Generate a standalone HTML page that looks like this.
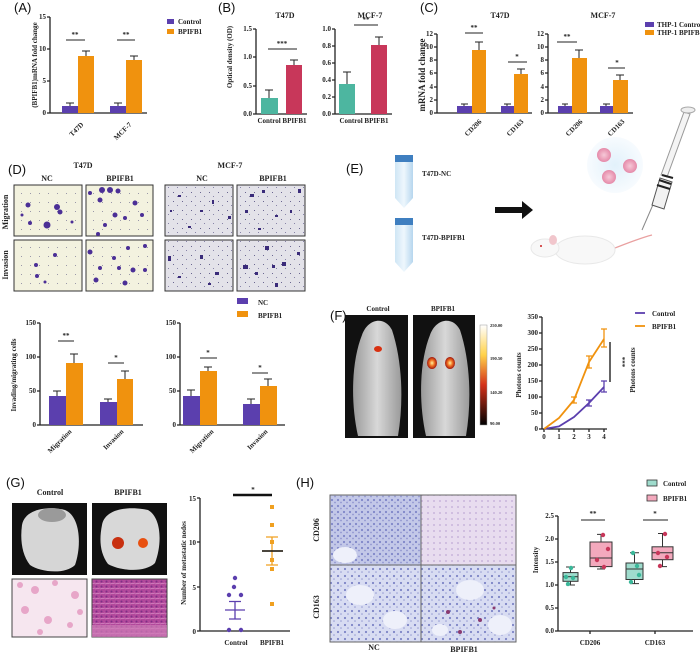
<!DOCTYPE html>
<html><head><meta charset="utf-8"><style>
html,body{margin:0;padding:0;background:#fff}
svg{display:block}
text{font-family:"Liberation Serif",serif;font-weight:bold;fill:#222}
.pl{font-family:"Liberation Sans",sans-serif;font-weight:normal;font-size:13px;fill:#111}
.t{font-size:7px}
.ax{stroke:#222;stroke-width:1.3;fill:none}
.e{stroke:#222;stroke-width:1;fill:none}
</style></head><body>
<svg width="700" height="653" viewBox="0 0 700 653" xmlns="http://www.w3.org/2000/svg">
<defs>
<pattern id="ihc1" width="6" height="6" patternUnits="userSpaceOnUse"><rect width="6" height="6" fill="#c3c8e8"/><circle cx="2" cy="2" r="1.1" fill="#7f86c8"/><circle cx="5" cy="4.5" r="0.9" fill="#9096d0"/></pattern>
<pattern id="ihc2" width="6" height="6" patternUnits="userSpaceOnUse"><rect width="6" height="6" fill="#e8dcef"/><circle cx="2" cy="3" r="1" fill="#c8b5dc"/></pattern>
<pattern id="ihc3" width="7" height="7" patternUnits="userSpaceOnUse"><rect width="7" height="7" fill="#d8dcf2"/><circle cx="2" cy="2" r="1.1" fill="#7d84c6"/><circle cx="5" cy="5" r="0.8" fill="#959bd2"/></pattern>
<pattern id="he" width="5" height="5" patternUnits="userSpaceOnUse"><rect width="5" height="5" fill="#b2489c"/><circle cx="1.5" cy="1.5" r="1" fill="#7e2f86"/><path d="M0 4L5 3" stroke="#e6a6d4" stroke-width="0.6"/></pattern>
<pattern id="mcf" width="9" height="9" patternUnits="userSpaceOnUse"><rect width="9" height="9" fill="#e3e2e9"/><rect x="2" y="3" width="1" height="1" fill="#6a6690"/><rect x="6" y="7" width="1" height="1" fill="#8884a8"/></pattern>
<pattern id="t47" width="9" height="9" patternUnits="userSpaceOnUse"><rect width="9" height="9" fill="#f3f2df"/><rect x="3" y="4" width="1" height="1" fill="#9a98a8"/></pattern>
</defs>
<!-- Panel A -->
<text class="pl" x="14" y="12">(A)</text>
<path class="ax" d="M50 17V113H147M47 17H50M47 49H50M47 81H50M47 113H50"/>
<g class="t" text-anchor="end"><text x="46" y="19">15</text><text x="46" y="51">10</text><text x="46" y="83">5</text><text x="46" y="115">0</text></g>
<text class="t" transform="translate(37,65) rotate(-90)" text-anchor="middle" font-size="8">(BPIFB1)mRNA fold change</text>
<rect x="62" y="106" width="16" height="7" fill="#5b3fae"/><rect x="78" y="56" width="16" height="57" fill="#f0920e"/>
<rect x="110" y="106" width="16" height="7" fill="#5b3fae"/><rect x="126" y="60" width="16" height="53" fill="#f0920e"/>
<path class="e" d="M70 106V103M66 103H74M86 56V51M82 51H90M118 106V103M114 103H122M134 60V56M130 56H138"/>
<path class="e" d="M66 40H85M117 40H135"/><text class="t" x="75" y="37" text-anchor="middle" font-size="9">**</text><text class="t" x="126" y="37" text-anchor="middle" font-size="9">**</text>
<text class="t" transform="translate(84,125) rotate(-45)" text-anchor="end">T47D</text>
<text class="t" transform="translate(132,125) rotate(-45)" text-anchor="end">MCF-7</text>
<rect x="167" y="19" width="7" height="5" fill="#5b3fae"/><text class="t" x="178" y="24" font-size="6">Control</text>
<rect x="167" y="29" width="7" height="5" fill="#f0920e"/><text class="t" x="178" y="34" font-size="6">BPIFB1</text>
<!-- Panel B -->
<text class="pl" x="218" y="12">(B)</text>
<text x="285" y="18" font-size="8" text-anchor="middle">T47D</text>
<path class="ax" d="M256 29V114H307M253 29H256M253 57H256M253 86H256M253 114H256"/>
<g class="t" text-anchor="end" font-size="6"><text x="252" y="31">1.5</text><text x="252" y="59">1.0</text><text x="252" y="88">0.5</text><text x="252" y="116">0.0</text></g>
<text class="t" transform="translate(232,57) rotate(-90)" text-anchor="middle">Optical density (OD)</text>
<rect x="261" y="98" width="17" height="16" fill="#4db6a0"/><rect x="286" y="65" width="16" height="49" fill="#c8375a"/>
<path class="e" d="M269 98V90M265 90H273M294 65V60M290 60H298M268 49H297"/>
<text class="t" x="282" y="46" text-anchor="middle" font-size="9">***</text>
<text class="t" x="282" y="123" text-anchor="middle">Control BPIFB1</text>
<text x="370" y="18" font-size="8" text-anchor="middle">MCF-7</text>
<path class="ax" d="M335 29V114H392M332 29H335M332 46H335M332 63H335M332 80H335M332 97H335M332 114H335"/>
<g class="t" text-anchor="end" font-size="6"><text x="331" y="31">1.0</text><text x="331" y="48">0.8</text><text x="331" y="65">0.6</text><text x="331" y="82">0.4</text><text x="331" y="99">0.2</text><text x="331" y="116">0.0</text></g>
<rect x="339" y="84" width="16" height="30" fill="#4db6a0"/><rect x="371" y="45" width="16" height="69" fill="#c8375a"/>
<path class="e" d="M347 84V72M343 72H351M379 45V37M375 37H383M354 25H378"/>
<text class="t" x="366" y="22" text-anchor="middle" font-size="9">**</text>
<text class="t" x="364" y="123" text-anchor="middle">Control BPIFB1</text>
<!-- Panel C -->
<text class="pl" x="420" y="12">(C)</text>
<text x="500" y="18" font-size="8" text-anchor="middle">T47D</text>
<text x="603" y="18" font-size="8" text-anchor="middle">MCF-7</text>
<text transform="translate(425,75) rotate(-90)" text-anchor="middle" font-size="9">mRNA fold change</text>
<path class="ax" d="M437 34V113H532M434 34H437M434 47H437M434 60H437M434 73H437M434 87H437M434 100H437M434 113H437"/>
<g class="t" text-anchor="end" font-size="6"><text x="433" y="36">12</text><text x="433" y="49">10</text><text x="433" y="62">8</text><text x="433" y="75">6</text><text x="433" y="89">4</text><text x="433" y="102">2</text><text x="433" y="115">0</text></g>
<rect x="457" y="106" width="15" height="7" fill="#5b3fae"/><rect x="472" y="50" width="14" height="63" fill="#f0920e"/>
<rect x="501" y="106" width="13" height="7" fill="#5b3fae"/><rect x="514" y="74" width="14" height="39" fill="#f0920e"/>
<path class="e" d="M464 106V104M461 104H468M479 50V42M475 42H483M507 106V104M504 104H511M521 74V69M517 69H525M465 33H483M508 62H527"/>
<text class="t" x="474" y="30" text-anchor="middle" font-size="9">**</text><text class="t" x="517" y="59" text-anchor="middle" font-size="9">*</text>
<text class="t" transform="translate(482,122) rotate(-45)" text-anchor="end">CD206</text>
<text class="t" transform="translate(524,122) rotate(-45)" text-anchor="end">CD163</text>
<path class="ax" d="M548 34V113H633M545 34H548M545 47H548M545 60H548M545 73H548M545 87H548M545 100H548M545 113H548"/>
<g class="t" text-anchor="end" font-size="6"><text x="544" y="36">12</text><text x="544" y="49">10</text><text x="544" y="62">8</text><text x="544" y="75">6</text><text x="544" y="89">4</text><text x="544" y="102">2</text><text x="544" y="115">0</text></g>
<rect x="558" y="106" width="14" height="7" fill="#5b3fae"/><rect x="572" y="58" width="15" height="55" fill="#f0920e"/>
<rect x="600" y="106" width="13" height="7" fill="#5b3fae"/><rect x="613" y="80" width="15" height="33" fill="#f0920e"/>
<path class="e" d="M565 106V104M562 104H568M579 58V50M575 50H583M606 106V104M603 104H610M620 80V75M616 75H624M557 42H577M608 68H625"/>
<text class="t" x="567" y="39" text-anchor="middle" font-size="9">**</text><text class="t" x="617" y="65" text-anchor="middle" font-size="9">*</text>
<text class="t" transform="translate(583,122) rotate(-45)" text-anchor="end">CD206</text>
<text class="t" transform="translate(625,122) rotate(-45)" text-anchor="end">CD163</text>
<rect x="645" y="22" width="9" height="5" fill="#5b3fae"/><text class="t" x="657" y="27" font-size="5.3">THP-1 Control</text>
<rect x="645" y="30" width="9" height="5" fill="#f0920e"/><text class="t" x="657" y="35" font-size="5.3">THP-1 BPIFB1</text>
<!-- Panel D images -->
<text class="pl" x="8" y="174">(D)</text>
<text x="83" y="168" font-size="8" text-anchor="middle">T47D</text><text x="230" y="168" font-size="8" text-anchor="middle">MCF-7</text>
<g font-size="8" text-anchor="middle"><text x="47" y="181">NC</text><text x="120" y="181">BPIFB1</text><text x="202" y="181">NC</text><text x="273" y="181">BPIFB1</text></g>
<text transform="translate(8,212) rotate(-90)" text-anchor="middle" font-size="8">Migration</text>
<text transform="translate(8,265) rotate(-90)" text-anchor="middle" font-size="8">Invasion</text>
<g stroke="#333" stroke-width="1">
<rect x="14" y="185" width="68" height="51" fill="url(#t47)"/><rect x="86" y="185" width="67" height="51" fill="url(#t47)"/>
<rect x="14" y="240" width="68" height="51" fill="url(#t47)"/><rect x="86" y="240" width="67" height="51" fill="url(#t47)"/>
<rect x="165" y="185" width="68" height="51" fill="url(#mcf)"/><rect x="237" y="185" width="68" height="51" fill="url(#mcf)"/>
<rect x="165" y="240" width="68" height="51" fill="url(#mcf)"/><rect x="237" y="240" width="68" height="51" fill="url(#mcf)"/></g>
<g fill="#4b2f96">
<circle cx="28" cy="205" r="2.5"/><circle cx="57" cy="207" r="3"/><circle cx="60" cy="212" r="2.5"/><circle cx="47" cy="225" r="3.5"/><circle cx="30" cy="223" r="2"/><circle cx="22" cy="215" r="1.5"/><circle cx="72" cy="222" r="1.5"/>
<circle cx="102" cy="190" r="3"/><circle cx="110" cy="190" r="3"/><circle cx="118" cy="191" r="2.5"/><circle cx="100" cy="200" r="2.5"/><circle cx="135" cy="203" r="2.5"/><circle cx="115" cy="215" r="2.5"/><circle cx="125" cy="218" r="2"/><circle cx="142" cy="215" r="2"/><circle cx="105" cy="225" r="2"/><circle cx="90" cy="193" r="2"/><circle cx="98" cy="234" r="2"/>
<circle cx="55" cy="255" r="2"/><circle cx="36" cy="265" r="2"/><circle cx="37" cy="276" r="2"/><circle cx="45" cy="282" r="1.5"/>
<circle cx="90" cy="252" r="2.5"/><circle cx="114" cy="258" r="2"/><circle cx="128" cy="248" r="2"/><circle cx="145" cy="246" r="2"/><circle cx="100" cy="268" r="2"/><circle cx="96" cy="280" r="2.5"/><circle cx="125" cy="283" r="2.5"/><circle cx="133" cy="270" r="2.5"/><circle cx="145" cy="270" r="2"/><circle cx="119" cy="268" r="2"/>
</g>
<g fill="#3a2b7a">
<rect x="178" y="195" width="3" height="2"/><rect x="200" y="210" width="3" height="2"/><rect x="212" y="200" width="2" height="4"/><rect x="228" y="216" width="3" height="3"/><rect x="188" y="226" width="3" height="2"/><rect x="170" y="210" width="2" height="2"/>
<rect x="250" y="194" width="4" height="3"/><rect x="262" y="190" width="3" height="3"/><rect x="298" y="189" width="3" height="4"/><rect x="245" y="210" width="3" height="3"/><rect x="275" y="215" width="3" height="2"/><rect x="290" y="210" width="2" height="3"/><rect x="258" y="228" width="3" height="2"/>
<rect x="168" y="256" width="3" height="5"/><rect x="200" y="255" width="3" height="4"/><rect x="178" y="276" width="3" height="2"/><rect x="215" y="272" width="4" height="3"/><rect x="208" y="283" width="3" height="2"/>
<rect x="243" y="265" width="5" height="4"/><rect x="265" y="246" width="4" height="4"/><rect x="272" y="265" width="3" height="3"/><rect x="282" y="262" width="4" height="4"/><rect x="297" y="252" width="3" height="3"/><rect x="275" y="283" width="3" height="4"/><rect x="255" y="272" width="3" height="3"/>
</g>
<rect x="237" y="298" width="11" height="6" fill="#5b3fae"/><text class="t" x="258" y="305" font-size="8">NC</text>
<rect x="237" y="311" width="11" height="6" fill="#f0920e"/><text class="t" x="258" y="318" font-size="8">BPIFB1</text>
<!-- D bar charts -->
<text class="t" transform="translate(16,375) rotate(-90)" text-anchor="middle">Invading/migrating cells</text>
<path class="ax" d="M40 323V425H143M37 323H40M37 357H40M37 391H40M37 425H40"/>
<g class="t" text-anchor="end"><text x="36" y="325">150</text><text x="36" y="359">100</text><text x="36" y="393">50</text><text x="36" y="427">0</text></g>
<rect x="49" y="396" width="17" height="29" fill="#5b3fae"/><rect x="66" y="363" width="17" height="62" fill="#f0920e"/>
<rect x="100" y="402" width="17" height="23" fill="#5b3fae"/><rect x="117" y="379" width="16" height="46" fill="#f0920e"/>
<path class="e" d="M57 396V391M53 391H61M74 363V354M70 354H78M108 402V399M104 399H112M125 379V371M121 371H129M58 341H74M108 363H124"/>
<text class="t" x="66" y="338" text-anchor="middle" font-size="9">**</text><text class="t" x="116" y="360" text-anchor="middle" font-size="9">*</text>
<text class="t" transform="translate(72,432) rotate(-45)" text-anchor="end">Migration</text>
<text class="t" transform="translate(124,432) rotate(-45)" text-anchor="end">Invasion</text>
<path class="ax" d="M180 323V425H285M177 323H180M177 357H180M177 391H180M177 425H180"/>
<g class="t" text-anchor="end"><text x="176" y="325">150</text><text x="176" y="359">100</text><text x="176" y="393">50</text><text x="176" y="427">0</text></g>
<rect x="183" y="396" width="17" height="29" fill="#5b3fae"/><rect x="200" y="371" width="17" height="54" fill="#f0920e"/>
<rect x="243" y="404" width="17" height="21" fill="#5b3fae"/><rect x="260" y="386" width="17" height="39" fill="#f0920e"/>
<path class="e" d="M191 396V390M187 390H195M208 371V367M204 367H212M251 404V399M247 399H255M268 386V379M264 379H272M200 358H217M252 373H268"/>
<text class="t" x="208" y="355" text-anchor="middle" font-size="9">*</text><text class="t" x="260" y="370" text-anchor="middle" font-size="9">*</text>
<text class="t" transform="translate(214,432) rotate(-45)" text-anchor="end">Migration</text>
<text class="t" transform="translate(268,432) rotate(-45)" text-anchor="end">Invasion</text>
<!-- Panel E -->
<text class="pl" x="346" y="173">(E)</text>
<defs><linearGradient id="tb" x1="0" x2="1"><stop offset="0" stop-color="#cfe6f5"/><stop offset="0.5" stop-color="#eef7fd"/><stop offset="1" stop-color="#b6d6ee"/></linearGradient>
<radialGradient id="cg"><stop offset="0" stop-color="#e2f1fb"/><stop offset="1" stop-color="#f7fbfe"/></radialGradient>
<radialGradient id="cell"><stop offset="0" stop-color="#f6c9d8"/><stop offset="1" stop-color="#e58aa9"/></radialGradient>
<linearGradient id="cb" x1="0" y1="0" x2="0" y2="1"><stop offset="0" stop-color="#fff"/><stop offset="0.3" stop-color="#ffd24a"/><stop offset="0.6" stop-color="#d4321a"/><stop offset="1" stop-color="#000"/></linearGradient>
<radialGradient id="hot"><stop offset="0" stop-color="#fff4a0"/><stop offset="0.5" stop-color="#f07020"/><stop offset="1" stop-color="#a01810"/></radialGradient>
<linearGradient id="ms" x1="0" x2="1"><stop offset="0" stop-color="#9a9a9a"/><stop offset="0.5" stop-color="#d8d8d8"/><stop offset="1" stop-color="#9a9a9a"/></linearGradient></defs>
<rect x="395" y="155" width="18" height="7" fill="#3f7fc0"/><path d="M395 162H413V198L404 208L395 198Z" fill="url(#tb)"/>
<rect x="395" y="218" width="18" height="7" fill="#3f7fc0"/><path d="M395 225H413V262L404 272L395 262Z" fill="url(#tb)"/>
<text x="422" y="176" font-size="7" font-weight="normal">T47D-NC</text><text x="422" y="240" font-size="7" font-weight="normal">T47D-BPIFB1</text>
<path d="M495 207H522V201L533 210L522 219V213H495Z" fill="#111"/>
<circle cx="615" cy="165" r="28" fill="url(#cg)"/>
<circle cx="604" cy="155" r="7" fill="url(#cell)"/><circle cx="630" cy="166" r="7" fill="url(#cell)"/><circle cx="609" cy="177" r="7" fill="url(#cell)"/>
<path d="M642 230L655 200" stroke="#888" stroke-width="1"/>
<path d="M652 205L660 178L672 182L664 209Z" fill="#f2f2f2" stroke="#555" stroke-width="1"/>
<path d="M661 175L684 112L690 114L667 177Z" fill="#f4f4f4" stroke="#999" stroke-width="1"/>
<path d="M657 185L670 189M659 180L671 184M662 175L673 178" stroke="#222" stroke-width="2"/>
<ellipse cx="688" cy="110" rx="7" ry="3" fill="#eee" stroke="#aaa"/>
<path d="M610 250Q640 238 652 235" stroke="#e9a0a0" stroke-width="1.2" fill="none"/>
<ellipse cx="585" cy="250" rx="30" ry="14" fill="#f8f8f8" stroke="#e8e8e8"/>
<ellipse cx="545" cy="248" rx="14" ry="9" fill="#f8f8f8" stroke="#e8e8e8"/>
<ellipse cx="553" cy="240" rx="4" ry="5" fill="#f1c6cc"/><circle cx="541" cy="246" r="1" fill="#c22"/>
<!-- Panel F -->
<text class="pl" x="330" y="320">(F)</text>
<text x="378" y="311" font-size="7" text-anchor="middle">Control</text><text x="443" y="311" font-size="7" text-anchor="middle">BPIFB1</text>
<rect x="345" y="315" width="63" height="123" fill="#111"/><rect x="413" y="315" width="62" height="123" fill="#111"/>
<path d="M358 436C350 400 352 360 362 335C368 318 385 316 392 330C402 360 404 400 398 436Z" fill="url(#ms)"/>
<path d="M426 436C418 400 420 360 430 335C436 318 453 316 460 330C470 360 472 400 466 436Z" fill="url(#ms)"/>
<ellipse cx="378" cy="349" rx="4" ry="3" fill="#d83010"/>
<ellipse cx="432" cy="363" rx="5" ry="6" fill="url(#hot)"/><ellipse cx="450" cy="363" rx="5" ry="6" fill="url(#hot)"/>
<rect x="480" y="325" width="7" height="100" fill="url(#cb)" stroke="#999" stroke-width="0.5"/>
<g font-size="4.5" font-weight="normal"><text x="490" y="327">250.00</text><text x="490" y="360">190.50</text><text x="490" y="394">140.20</text><text x="490" y="425">90.00</text></g>
<text class="t" transform="translate(521,375) rotate(-90)" text-anchor="middle">Photons counts</text>
<path class="ax" d="M542 317V429H607M539 317H542M539 333H542M539 349H542M539 365H542M539 381H542M539 397H542M539 413H542M539 429H542M544 429V432M559 429V432M574 429V432M589 429V432M604 429V432"/>
<g class="t" text-anchor="end" font-size="6"><text x="538" y="319">350</text><text x="538" y="335">300</text><text x="538" y="351">250</text><text x="538" y="367">200</text><text x="538" y="383">150</text><text x="538" y="399">100</text><text x="538" y="415">50</text><text x="538" y="431">0</text></g>
<g class="t" text-anchor="middle"><text x="544" y="439">0</text><text x="559" y="439">1</text><text x="574" y="439">2</text><text x="589" y="439">3</text><text x="604" y="439">4</text></g>
<polyline points="544,429 559,426.4 574,417 589,403 604,387" fill="none" stroke="#5b3fae" stroke-width="1.8"/>
<polyline points="544,429 559,418 574,400 589,362 604,339" fill="none" stroke="#f0920e" stroke-width="1.8"/>
<path d="M589 406V400M586 406H592M586 400H592M604 392V381M601 392H607M601 381H607" stroke="#5b3fae" stroke-width="1.3"/>
<path d="M574 403V397M571 403H577M571 397H577M589 368V356M586 368H592M586 356H592M604 347V329M601 347H607M601 329H607" stroke="#f0920e" stroke-width="1.3"/>
<path d="M610 342V382" stroke="#111" stroke-width="1.3"/>
<text class="t" transform="translate(620,362) rotate(90)" text-anchor="middle" font-size="9">***</text>
<text class="t" transform="translate(635,370) rotate(-90)" text-anchor="middle">Photons counts</text>
<path d="M635 313H645" stroke="#5b3fae" stroke-width="1.8"/><text class="t" x="652" y="316" font-size="8">Control</text>
<path d="M635 326H645" stroke="#f0920e" stroke-width="1.8"/><text class="t" x="652" y="329" font-size="8">BPIFB1</text>
<!-- Panel G -->
<text class="pl" x="6" y="487">(G)</text>
<text x="50" y="495" font-size="8" text-anchor="middle">Control</text><text x="128" y="495" font-size="8" text-anchor="middle">BPIFB1</text>
<rect x="12" y="503" width="75" height="72" fill="#111"/><rect x="92" y="503" width="75" height="72" fill="#111"/>
<path d="M22 525C25 508 50 506 65 510C80 516 82 545 75 565C65 575 40 572 30 565C22 555 20 540 22 525Z" fill="#d6d6d6"/>
<ellipse cx="52" cy="515" rx="14" ry="7" fill="#9a9a9a"/>
<path d="M102 525C105 508 130 506 148 510C162 518 162 545 155 563C145 573 120 571 108 564C100 553 99 540 102 525Z" fill="#d8d8d8"/>
<ellipse cx="118" cy="543" rx="6" ry="6" fill="#c83010"/><ellipse cx="143" cy="543" rx="5" ry="5" fill="#e85010"/>
<rect x="12" y="579" width="75" height="58" fill="#f6e6ef" stroke="#444"/><rect x="92" y="579" width="75" height="58" fill="url(#he)" stroke="#444"/>
<g fill="#e7a6c8"><circle cx="20" cy="585" r="3"/><circle cx="35" cy="590" r="4"/><circle cx="55" cy="583" r="3"/><circle cx="75" cy="595" r="4"/><circle cx="25" cy="610" r="4"/><circle cx="48" cy="620" r="4"/><circle cx="70" cy="625" r="3"/><circle cx="40" cy="632" r="3"/><circle cx="80" cy="612" r="3"/></g>
<rect x="92" y="625" width="75" height="12" fill="#cf7fb8" opacity="0.7"/>
<text class="t" transform="translate(186,563) rotate(-90)" text-anchor="middle" font-size="8">Number of metastatic nodes</text>
<path class="ax" d="M200 498V631H290M197 498H200M197 542H200M197 587H200M197 631H200"/>
<g class="t" text-anchor="end" font-size="8"><text x="196" y="501">15</text><text x="196" y="545">10</text><text x="196" y="590">5</text><text x="196" y="634">0</text></g>
<path d="M233 495H272" stroke="#111" stroke-width="2.5"/><text class="t" x="253" y="492" text-anchor="middle" font-size="10">*</text>
<g fill="#5b3fae"><circle cx="235" cy="578" r="2.2"/><circle cx="234" cy="587" r="2.2"/><circle cx="229" cy="595" r="2.2"/><circle cx="241" cy="595" r="2.2"/><circle cx="229" cy="630" r="2.2"/><circle cx="241" cy="630" r="2.2"/></g>
<path d="M225 610H245M229 601.5H241M229 619H241M235 601.5V619" stroke="#5b3fae" stroke-width="1.3"/>
<g fill="#f0a020"><rect x="270" y="505" width="4" height="4"/><rect x="270" y="523" width="4" height="4"/><rect x="270" y="540" width="4" height="4"/><rect x="270" y="558" width="4" height="4"/><rect x="270" y="567" width="4" height="4"/><rect x="270" y="602" width="4" height="4"/></g>
<path d="M262 551H283M266 537H278M266 565H278M272 537V565" stroke="#f0a020" stroke-width="1.3"/>
<path d="M262 551H283" stroke="#111" stroke-width="1.5"/>
<text class="t" x="236" y="645" text-anchor="middle" font-size="8">Control</text><text class="t" x="272" y="645" text-anchor="middle" font-size="8">BPIFB1</text>
<!-- Panel H -->
<text class="pl" x="296" y="487">(H)</text>
<rect x="330" y="495" width="91" height="70" fill="url(#ihc1)"/><rect x="421" y="495" width="95" height="70" fill="url(#ihc2)"/>
<rect x="330" y="565" width="91" height="77" fill="url(#ihc3)"/><rect x="421" y="565" width="95" height="77" fill="url(#ihc3)"/>
<g fill="#eef0fa"><ellipse cx="345" cy="555" rx="12" ry="8"/><ellipse cx="360" cy="595" rx="14" ry="10"/><ellipse cx="395" cy="620" rx="12" ry="9"/><ellipse cx="470" cy="590" rx="14" ry="10"/><ellipse cx="500" cy="625" rx="12" ry="10"/><ellipse cx="440" cy="630" rx="8" ry="6"/></g>
<g fill="#8a3a70"><circle cx="448" cy="612" r="2"/><circle cx="480" cy="620" r="2"/><circle cx="460" cy="632" r="2"/><circle cx="494" cy="608" r="1.5"/></g>
<path d="M330 495H516V642H330ZM421 495V642M330 565H516" stroke="#666" stroke-width="1" fill="none"/>
<text transform="translate(319,530) rotate(-90)" text-anchor="middle" font-size="8">CD206</text>
<text transform="translate(319,607) rotate(-90)" text-anchor="middle" font-size="8">CD163</text>
<text x="374" y="650" font-size="8" text-anchor="middle">NC</text><text x="464" y="652" font-size="8" text-anchor="middle">BPIFB1</text>
<text class="t" transform="translate(538,560) rotate(-90)" text-anchor="middle" font-size="8">Intensity</text>
<path class="ax" d="M558 516V631H693M555 516H558M555 539H558M555 562H558M555 585H558M555 608H558M555 631H558M590 631V634M655 631V634"/>
<g class="t" text-anchor="end" font-size="6"><text x="554" y="518">2.5</text><text x="554" y="541">2.0</text><text x="554" y="564">1.5</text><text x="554" y="587">1.0</text><text x="554" y="610">0.5</text><text x="554" y="633">0.0</text></g>
<g stroke="#333" stroke-width="1">
<path d="M570.5 585V567M566 585H575M566 567H575" fill="none"/><rect x="563" y="572.6" width="15" height="8.7" fill="#9fdccd"/><path d="M563 576.7H578"/>
<path d="M601 569V534.4M597 569H605M597 534.4H605" fill="none"/><rect x="590" y="542" width="22" height="24.6" fill="#f3a9bd"/><path d="M590 558H612"/>
<path d="M634.5 583.6V552.8M630 583.6H639M630 552.8H639" fill="none"/><rect x="626" y="563" width="17" height="16.5" fill="#9fdccd"/><path d="M626 569H643"/>
<path d="M662.5 566.6V533.5M658 566.6H667M658 533.5H667" fill="none"/><rect x="652" y="546.8" width="21" height="12.9" fill="#f3a9bd"/><path d="M652 552.8H673"/>
</g>
<g fill="#3bb89a"><circle cx="568" cy="584" r="2.2"/><circle cx="573" cy="578" r="2.2"/><circle cx="566" cy="577" r="2.2"/><circle cx="571" cy="568" r="2.2"/><circle cx="631" cy="582" r="2.2"/><circle cx="637" cy="566" r="2.2"/><circle cx="633" cy="553" r="2.2"/><circle cx="639" cy="575" r="2.2"/></g>
<g fill="#c8375a"><circle cx="603" cy="535" r="2.2"/><circle cx="597" cy="560" r="2.2"/><circle cx="604" cy="567" r="2.2"/><circle cx="608" cy="549" r="2.2"/><circle cx="665" cy="534" r="2.2"/><circle cx="658" cy="553" r="2.2"/><circle cx="667" cy="557" r="2.2"/><circle cx="660" cy="566" r="2.2"/></g>
<path class="e" d="M581 520H605M643 520H668"/>
<text class="t" x="593" y="516" text-anchor="middle" font-size="9">**</text><text class="t" x="655" y="516" text-anchor="middle" font-size="9">*</text>
<text class="t" x="590" y="645" text-anchor="middle">CD206</text><text class="t" x="655" y="645" text-anchor="middle">CD163</text>
<rect x="647" y="480" width="10" height="6" fill="#9fdccd" stroke="#333" stroke-width="0.8"/><text class="t" x="663" y="486">Control</text>
<rect x="647" y="495" width="10" height="6" fill="#f3a9bd" stroke="#333" stroke-width="0.8"/><text class="t" x="663" y="501">BPIFB1</text>
</svg>
</body></html>
